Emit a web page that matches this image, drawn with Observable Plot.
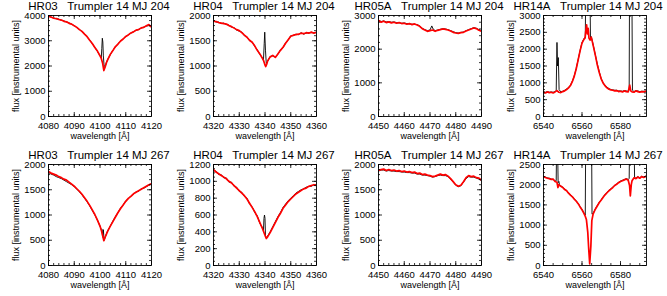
<!DOCTYPE html>
<html><head><meta charset="utf-8">
<script src="https://cdn.jsdelivr.net/npm/d3@7"></script>
<script src="https://cdn.jsdelivr.net/npm/@observablehq/plot@0.6"></script>
<style>
html,body{margin:0;padding:0;background:#fff;}
#chart{position:relative;width:667px;height:296px;overflow:hidden;background:#fff;}
#chart > div{position:absolute;}
#chart svg{overflow:visible;background:transparent;}
</style></head><body><div id="chart"></div>
<script>
// ---- titles and tick labels ----
const titles = [
  "HR03\u00a0\u00a0\u00a0Trumpler 14 MJ 204",
  "HR04\u00a0\u00a0\u00a0Trumpler 14 MJ 204",
  "HR05A\u00a0\u00a0\u00a0Trumpler 14 MJ 204",
  "HR14A\u00a0\u00a0\u00a0Trumpler 14 MJ 204",
  "HR03\u00a0\u00a0\u00a0Trumpler 14 MJ 267",
  "HR04\u00a0\u00a0\u00a0Trumpler 14 MJ 267",
  "HR05A\u00a0\u00a0\u00a0Trumpler 14 MJ 267",
  "HR14A\u00a0\u00a0\u00a0Trumpler 14 MJ 267"
];
const xLabel = "wavelength [Å]";
const yLabel = "flux [instrumental units]";
const xTicksHR03 = [4080, 4090, 4100, 4110, 4120];
const xTicksHR04 = [4320, 4330, 4340, 4350, 4360];
const xTicksHR05 = [4450, 4460, 4470, 4480, 4490];
const xTicksHR14 = [6540, 6560, 6580];
const yTicks4000 = [0, 1000, 2000, 3000, 4000];
const yTicks2000 = [0, 500, 1000, 1500, 2000];
const yTicks3000k = [0, 1000, 2000, 3000];
const yTicks3000 = [0, 500, 1000, 1500, 2000, 2500, 3000];
const yTicks1200 = [0, 200, 400, 600, 800, 1000, 1200];
const yTicks2500 = [0, 500, 1000, 1500, 2000, 2500];

// ---- spectra: [wavelength, flux] ----
const hr03_204_red = [[4080,3960],[4081,3940],[4082,3890],[4083,3880],[4084,3840],[4085,3820],[4086,3770],[4087,3750],[4088,3690],[4089,3660],[4090,3590],[4091,3530],[4092,3440],[4093,3370],[4094,3260],[4095,3160],[4096,3020],[4097,2890],[4098,2730],[4099,2590],[4100,2400],[4100.5,2300],[4101,2120],[4101.5,1820],[4102,1960],[4102.5,2130],[4103,2250],[4104,2460],[4105,2610],[4106,2770],[4107,2870],[4108,2990],[4109,3070],[4110,3170],[4111,3230],[4112,3310],[4113,3350],[4114,3420],[4115,3440],[4116,3510],[4117,3530],[4118,3590],[4119,3640],[4120,3540]];
const hr03_204_black = [[4080,3990],[4081,3930],[4082,3910],[4083,3870],[4084,3860],[4085,3810],[4086,3790],[4087,3740],[4088,3710],[4089,3650],[4090,3600],[4091,3520],[4092,3450],[4093,3360],[4094,3270],[4095,3150],[4096,3030],[4097,2880],[4098,2740],[4099,2580],[4100,2410],[4100.5,2320],[4100.7,2700],[4100.9,3100],[4101.1,2950],[4101.3,2400],[4101.6,2000],[4102,1980],[4102.5,2150],[4103,2260],[4104,2450],[4105,2620],[4106,2760],[4107,2880],[4107.7,2960],[4108,2980],[4109,3080],[4110,3160],[4111,3240],[4112,3300],[4113,3360],[4114,3410],[4115,3450],[4116,3500],[4117,3540],[4118,3580],[4119,3600],[4120,3550]];

const hr04_204_red = [[4320,1890],[4321,1880],[4322,1860],[4323,1850],[4324,1840],[4325,1830],[4326,1800],[4327,1780],[4328,1750],[4329,1720],[4330,1700],[4331,1660],[4332,1610],[4333,1570],[4334,1510],[4335,1470],[4336,1400],[4337,1310],[4338,1240],[4339,1150],[4339.5,1100],[4340,1020],[4340.3,990],[4340.7,1040],[4341,1100],[4342,1180],[4343,1210],[4344,1170],[4345,1240],[4346,1310],[4347,1370],[4348,1450],[4349,1520],[4350,1590],[4351,1610],[4352,1620],[4353,1630],[4354,1650],[4355,1640],[4356,1660],[4357,1650],[4358,1670],[4359,1650],[4360,1670]];
const hr04_204_black = [[4320,1900],[4321,1870],[4322,1870],[4323,1840],[4324,1850],[4325,1820],[4326,1810],[4327,1770],[4328,1760],[4329,1710],[4330,1690],[4331,1670],[4332,1600],[4333,1580],[4334,1500],[4335,1480],[4336,1390],[4337,1320],[4338,1230],[4339,1160],[4339.4,1120],[4339.7,1450],[4339.9,1670],[4340.2,1300],[4340.5,1050],[4341,1090],[4342,1190],[4343,1200],[4344,1180],[4345,1230],[4346,1320],[4347,1360],[4348,1460],[4349,1510],[4350,1600],[4351,1600],[4352,1630],[4353,1620],[4354,1660],[4355,1630],[4356,1650],[4357,1660],[4358,1660],[4359,1660],[4360,1660]];

const hr05_204_red = [[4450,2850],[4451,2800],[4452,2830],[4453,2790],[4454,2810],[4455,2780],[4456,2800],[4457,2770],[4458,2790],[4459,2760],[4460,2770],[4461,2740],[4462,2760],[4463,2730],[4464,2750],[4465,2720],[4466,2680],[4467,2610],[4468,2570],[4469,2530],[4470,2550],[4471,2570],[4472,2530],[4473,2560],[4474,2580],[4475,2600],[4476,2590],[4477,2570],[4478,2540],[4479,2500],[4480,2480],[4481,2470],[4482,2490],[4483,2500],[4484,2540],[4485,2570],[4486,2600],[4487,2630],[4488,2610],[4489,2560],[4490,2530]];
const hr05_204_black = [[4450,2870],[4451,2820],[4452,2840],[4453,2810],[4454,2820],[4455,2800],[4456,2810],[4457,2790],[4458,2780],[4459,2770],[4460,2780],[4461,2760],[4462,2750],[4463,2740],[4464,2740],[4465,2730],[4466,2690],[4467,2620],[4468,2580],[4469,2550],[4470,2570],[4470.7,2690],[4471.2,2600],[4472,2550],[4473,2570],[4474,2590],[4475,2610],[4476,2600],[4477,2580],[4478,2550],[4479,2520],[4480,2490],[4481,2480],[4482,2500],[4483,2510],[4484,2550],[4485,2580],[4486,2610],[4487,2640],[4488,2620],[4489,2580],[4490,2550]];

const hr14_204_red = [[6540,720],[6541,700],[6542,730],[6543,710],[6544,720],[6545,700],[6546,730],[6547,770],[6548,720],[6549,710],[6550,740],[6551,760],[6552,800],[6553,850],[6554,920],[6555,1040],[6556,1200],[6557,1420],[6558,1680],[6559,1950],[6560,2180],[6561,2290],[6561.6,2330],[6562,2560],[6562.4,2720],[6562.8,2450],[6563.2,2620],[6563.6,2330],[6564.2,2270],[6564.8,2360],[6565.3,2240],[6566,2060],[6567,1800],[6568,1520],[6569,1300],[6570,1110],[6571,990],[6572,910],[6573,850],[6574,810],[6575,790],[6576,780],[6577,760],[6578,770],[6579,740],[6580,750],[6581,730],[6582,760],[6583,740],[6584,730],[6584.8,930],[6585.3,760],[6586,730],[6587,720],[6588,760],[6589,740],[6590,720],[6591,740],[6592,730],[6593.5,750]];
const hr14_204_black = [[6540,740],[6541,720],[6542,740],[6543,720],[6544,730],[6545,720],[6546,740],[6546.6,760],[6546.8,1500],[6547,2200],[6547.3,1500],[6547.7,1750],[6548.1,800],[6549,730],[6550,750],[6551,780],[6552,820],[6553,860],[6554,930],[6555,1050],[6556,1210],[6557,1430],[6558,1690],[6559,1960],[6560,2200],[6561,2310],[6561.7,2360],[6562.0,4000],[6564.1,4000],[6564.4,2300],[6564.8,2370],[6565.3,2260],[6566,2080],[6567,1810],[6568,1540],[6569,1320],[6570,1120],[6571,1000],[6572,920],[6573,870],[6574,830],[6575,800],[6576,790],[6577,780],[6578,780],[6579,760],[6580,760],[6581,750],[6582,770],[6583,760],[6584,750],[6584.5,800],[6584.7,4000],[6585.9,4000],[6586.2,780],[6587,740],[6588,770],[6589,760],[6590,740],[6591,750],[6592,750],[6593.5,760]];

const hr03_267_red = [[4080,1860],[4081,1830],[4082,1810],[4083,1790],[4084,1760],[4085,1740],[4086,1710],[4087,1690],[4088,1650],[4089,1610],[4090,1570],[4091,1520],[4092,1470],[4093,1410],[4094,1340],[4095,1270],[4096,1190],[4097,1100],[4098,1010],[4099,900],[4100,780],[4100.5,700],[4101,600],[4101.5,490],[4102,560],[4102.5,620],[4103,680],[4104,780],[4105,870],[4106,960],[4107,1050],[4108,1130],[4109,1200],[4110,1270],[4111,1330],[4112,1370],[4113,1420],[4114,1450],[4115,1480],[4116,1510],[4117,1540],[4118,1570],[4119,1600],[4120,1620]];
const hr03_267_black = [[4080,1840],[4081,1810],[4082,1790],[4083,1760],[4084,1740],[4085,1720],[4086,1690],[4087,1660],[4088,1630],[4089,1600],[4090,1560],[4091,1510],[4092,1460],[4093,1400],[4094,1330],[4095,1260],[4096,1180],[4097,1090],[4098,1000],[4099,900],[4100,780],[4100.5,710],[4100.8,720],[4101,560],[4101.3,710],[4101.6,500],[4102,560],[4102.5,630],[4103,690],[4104,780],[4105,880],[4106,970],[4107,1050],[4108,1140],[4109,1200],[4110,1280],[4111,1320],[4112,1380],[4113,1410],[4114,1460],[4115,1470],[4116,1520],[4117,1530],[4118,1560],[4119,1590],[4120,1610]];

const hr04_267_red = [[4320,1140],[4321,1110],[4322,1090],[4323,1070],[4324,1050],[4325,1030],[4326,1000],[4327,980],[4328,950],[4329,920],[4330,890],[4331,860],[4332,830],[4333,790],[4334,740],[4335,690],[4336,640],[4337,580],[4338,510],[4339,440],[4340,360],[4340.5,320],[4341,340],[4342,390],[4343,450],[4344,510],[4345,570],[4346,620],[4347,680],[4348,720],[4349,760],[4350,790],[4351,820],[4352,850],[4353,870],[4354,890],[4355,910],[4356,920],[4357,940],[4358,950],[4359,960],[4360,950]];
const hr04_267_black = [[4320,1130],[4321,1120],[4322,1080],[4323,1080],[4324,1040],[4325,1040],[4326,990],[4327,990],[4328,940],[4329,930],[4330,880],[4331,870],[4332,820],[4333,800],[4334,730],[4335,700],[4336,630],[4337,590],[4338,500],[4339,450],[4339.4,420],[4339.6,560],[4339.8,600],[4340.0,560],[4340.2,340],[4340.5,330],[4341,350],[4342,400],[4343,460],[4344,520],[4345,580],[4346,630],[4347,690],[4348,730],[4349,770],[4350,800],[4351,830],[4352,860],[4353,880],[4354,900],[4355,910],[4356,930],[4357,940],[4358,940],[4359,960],[4360,960]];

const hr05_267_red = [[4450,1880],[4451,1900],[4452,1910],[4453,1880],[4454,1900],[4455,1880],[4456,1890],[4457,1870],[4458,1880],[4459,1860],[4460,1870],[4461,1850],[4462,1860],[4463,1840],[4464,1850],[4465,1820],[4466,1830],[4467,1800],[4468,1810],[4469,1790],[4470,1780],[4471,1760],[4472,1770],[4473,1790],[4474,1810],[4475,1790],[4476,1800],[4477,1770],[4478,1720],[4479,1660],[4480,1600],[4481,1570],[4482,1590],[4483,1660],[4484,1740],[4485,1780],[4486,1760],[4487,1770],[4488,1740],[4489,1730],[4490,1690]];
const hr05_267_black = [[4450,1870],[4451,1890],[4452,1890],[4453,1870],[4454,1880],[4455,1870],[4456,1870],[4457,1860],[4458,1860],[4459,1850],[4460,1850],[4461,1840],[4462,1840],[4463,1830],[4464,1830],[4465,1810],[4466,1810],[4467,1790],[4468,1790],[4469,1780],[4470,1770],[4471,1750],[4472,1760],[4473,1780],[4474,1790],[4475,1780],[4476,1780],[4477,1760],[4478,1710],[4479,1650],[4480,1590],[4481,1560],[4482,1580],[4483,1650],[4484,1720],[4485,1760],[4486,1750],[4487,1750],[4488,1730],[4489,1710],[4490,1680]];

const hr14_267_red = [[6540,2200],[6541,2180],[6542,2160],[6543,2150],[6544,2130],[6545,2140],[6546,2080],[6547,2060],[6547.5,1930],[6548,2000],[6549,1960],[6550,1930],[6551,1880],[6552,1850],[6553,1790],[6554,1740],[6555,1700],[6556,1640],[6557,1590],[6558,1530],[6559,1450],[6560,1380],[6561,1290],[6561.6,1230],[6562.3,1130],[6563,820],[6563.5,400],[6564,40],[6564.6,480],[6565.1,1110],[6565.8,1280],[6567,1400],[6568,1480],[6569,1560],[6570,1620],[6571,1690],[6572,1750],[6573,1800],[6574,1850],[6575,1890],[6576,1930],[6577,1980],[6578,2010],[6579,2050],[6580,2080],[6581,2100],[6582,2120],[6583,2140],[6584,2110],[6584.7,1980],[6585.1,1720],[6585.6,2000],[6586,2100],[6587,2170],[6588,2150],[6589,2190],[6590,2160],[6591,2200],[6592,2180],[6593.5,2210]];
const hr14_267_black = [[6540,2210],[6541,2190],[6542,2170],[6543,2160],[6544,2140],[6545,2130],[6546,2090],[6546.6,2100],[6546.8,3000],[6547.3,3000],[6547.6,2050],[6548,2080],[6548.3,2000],[6549,1970],[6550,1940],[6551,1890],[6552,1860],[6553,1800],[6554,1750],[6555,1710],[6556,1650],[6557,1600],[6558,1540],[6559,1460],[6560,1390],[6561,1300],[6561.7,1250],[6561.9,3000],[6565.0,3000],[6565.2,1270],[6565.8,1290],[6567,1410],[6568,1490],[6569,1570],[6570,1630],[6571,1700],[6572,1760],[6573,1810],[6574,1860],[6575,1900],[6576,1940],[6577,1990],[6578,2020],[6579,2060],[6580,2090],[6581,2110],[6582,2130],[6583,2150],[6584,2130],[6584.5,2150],[6584.7,3000],[6587.1,3000],[6587.3,2180],[6588,2160],[6589,2200],[6590,2170],[6591,2210],[6592,2190],[6593.5,2220]];

// ---- panel layout ----
const panels = [
  {title: titles[0], xd: [4080, 4120], xt: xTicksHR03, xm: 2, yd: [0, 4000], yt: yTicks4000, ym: 200, red: hr03_204_red, black: hr03_204_black, col: 0, row: 0},
  {title: titles[1], xd: [4320, 4360], xt: xTicksHR04, xm: 2, yd: [0, 2000], yt: yTicks2000, ym: 100, red: hr04_204_red, black: hr04_204_black, col: 1, row: 0},
  {title: titles[2], xd: [4450, 4490], xt: xTicksHR05, xm: 2, yd: [0, 3000], yt: yTicks3000k, ym: 200, red: hr05_204_red, black: hr05_204_black, col: 2, row: 0},
  {title: titles[3], xd: [6540, 6593.5], xt: xTicksHR14, xm: 5, yd: [0, 3000], yt: yTicks3000, ym: 100, red: hr14_204_red, black: hr14_204_black, col: 3, row: 0},
  {title: titles[4], xd: [4080, 4120], xt: xTicksHR03, xm: 2, yd: [0, 2000], yt: yTicks2000, ym: 100, red: hr03_267_red, black: hr03_267_black, col: 0, row: 1},
  {title: titles[5], xd: [4320, 4360], xt: xTicksHR04, xm: 2, yd: [0, 1200], yt: yTicks1200, ym: 50, red: hr04_267_red, black: hr04_267_black, col: 1, row: 1},
  {title: titles[6], xd: [4450, 4490], xt: xTicksHR05, xm: 2, yd: [0, 2000], yt: yTicks2000, ym: 100, red: hr05_267_red, black: hr05_267_black, col: 2, row: 1},
  {title: titles[7], xd: [6540, 6593.5], xt: xTicksHR14, xm: 5, yd: [0, 2500], yt: yTicks2500, ym: 100, red: hr14_267_red, black: hr14_267_black, col: 3, row: 1}
];

const W = 165, H = 148, ML = 48, MR = 14, MT = 15, MB = 32;
const FW = W - ML - MR, FH = H - MT - MB;
const FONT = '"Liberation Sans", Arial, Helvetica, sans-serif';
const chart = document.getElementById("chart");

for (const p of panels) {
  const xMinor = d3.range(p.xd[0], p.xd[1] + 1e-9, p.xm);
  const yMinor = d3.range(p.yd[0], p.yd[1] + 1e-9, p.ym);
  const titleDx = p.col === 3 ? -7 : -1;
  const svg = Plot.plot({
    width: W, height: H,
    marginLeft: ML, marginRight: MR, marginTop: MT, marginBottom: MB,
    style: {fontFamily: FONT, fontSize: "9.5px", color: "#000", background: "transparent", overflow: "visible"},
    x: {type: "linear", domain: p.xd},
    y: {type: "linear", domain: p.yd},
    marks: [
      Plot.line(p.black, {x: d => d[0], y: d => d[1], stroke: "#000", strokeWidth: 0.9, clip: true}),
      Plot.line(p.red, {x: d => d[0], y: d => d[1], stroke: "#ff0000", strokeWidth: 1.7, clip: true}),
      Plot.frame({stroke: "#000", strokeWidth: 0.9}),
      // inward major/minor ticks on all four sides
      Plot.tickX(p.xt, {x: d => d, insetTop: FH - 4, stroke: "#000", strokeWidth: 0.8}),
      Plot.tickX(p.xt, {x: d => d, insetBottom: FH - 4, stroke: "#000", strokeWidth: 0.8}),
      Plot.tickX(xMinor, {x: d => d, insetTop: FH - 2, stroke: "#000", strokeWidth: 0.8}),
      Plot.tickX(xMinor, {x: d => d, insetBottom: FH - 2, stroke: "#000", strokeWidth: 0.8}),
      Plot.tickY(p.yt, {y: d => d, insetRight: FW - 4, stroke: "#000", strokeWidth: 0.8}),
      Plot.tickY(p.yt, {y: d => d, insetLeft: FW - 4, stroke: "#000", strokeWidth: 0.8}),
      Plot.tickY(yMinor, {y: d => d, insetRight: FW - 2, stroke: "#000", strokeWidth: 0.8}),
      Plot.tickY(yMinor, {y: d => d, insetLeft: FW - 2, stroke: "#000", strokeWidth: 0.8}),
      Plot.axisX(p.xt, {tickSize: 0, tickPadding: 5.5, tickFormat: d => String(d), label: null, fontSize: 9.5}),
      Plot.axisY(p.yt, {tickSize: 0, tickPadding: 3, tickFormat: d => String(d), label: null, fontSize: 9.5}),
      Plot.text([p.title], {frameAnchor: "top", lineAnchor: "middle", textAnchor: "middle", dx: titleDx, dy: -9.5, text: d => d, fontSize: 11.5, fill: "#000"}),
      Plot.text([xLabel], {frameAnchor: "bottom", lineAnchor: "middle", textAnchor: "middle", dy: 19.5, text: d => d, fontSize: 9, fill: "#000"}),
      Plot.text([yLabel], {frameAnchor: "left", lineAnchor: "middle", textAnchor: "middle", dx: -32.5, rotate: -90, text: d => d, fontSize: 9, fill: "#000"})
    ]
  });
  const wrap = document.createElement("div");
  wrap.style.left = (p.col * 165) + "px";
  wrap.style.top = (p.row * 149) + "px";
  wrap.appendChild(svg);
  chart.appendChild(wrap);
}
</script></body></html>
